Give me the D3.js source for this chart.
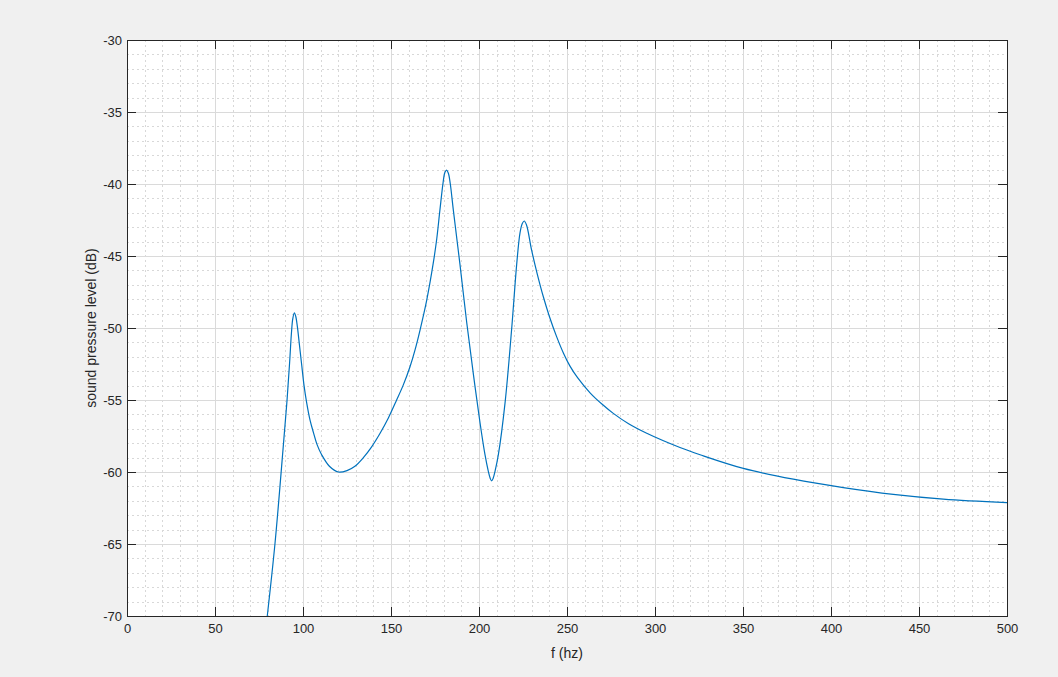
<!DOCTYPE html>
<html>
<head>
<meta charset="utf-8">
<script src="https://cdn.jsdelivr.net/npm/d3@7"></script>
<style>
  html, body { margin: 0; padding: 0; background: #f0f0f0; }
  svg { display: block; }
  text { font-family: Arial, "Liberation Sans", Helvetica, sans-serif; }
</style>
</head>
<body>
<svg id="chart" width="1058" height="677"></svg>
<script>
// ---- data ----
const freq = [79.7, 84.1, 88.8, 91.0, 92.4, 93.4, 94.2, 95.1, 95.9, 96.8, 98.0, 99.2, 100.6, 102.1, 104.0, 105.9, 108.0, 110.6, 115, 120.1, 125, 129.5, 134.3, 139, 143.8, 148.5, 153.2, 157, 160.8, 163.7, 166.5, 170.3, 174.0, 176.0, 177.8, 179.6, 180.6, 181.6, 182.6, 183.7, 185.4, 189.2, 193.0, 196.8, 200.6, 203.4, 205.3, 206.4, 207.2, 208.0, 209.1, 211, 214.8, 218.6, 221.4, 223.3, 224.6, 225.7, 227.0, 229.9, 233, 236.6, 240, 244.1, 248, 251.7, 256, 263.1, 270, 276.3, 285, 295.3, 314.2, 325.6, 350.2, 378.6, 407, 435.4, 463.8, 500];
const spl  = [-70, -64.95, -58.2, -54.9, -52.4, -50.4, -49.35, -48.94, -49.2, -49.9, -51.2, -52.5, -54.0, -55.2, -56.4, -57.25, -58.1, -58.8, -59.6, -60.0, -59.9, -59.6, -59.0, -58.25, -57.31, -56.25, -55.0, -53.95, -52.69, -51.5, -50.14, -48.06, -45.5, -43.8, -41.8, -39.9, -39.2, -39.03, -39.25, -40.0, -41.8, -45.6, -49.6, -53.2, -56.6, -58.8, -59.95, -60.45, -60.62, -60.45, -59.95, -58.8, -55.2, -50.0, -45.6, -43.4, -42.75, -42.57, -42.85, -44.6, -46.2, -47.85, -49.2, -50.6, -51.75, -52.65, -53.45, -54.5, -55.3, -55.93, -56.65, -57.31, -58.3, -58.8, -59.75, -60.5, -61.08, -61.55, -61.88, -62.13];
const xTicks = [0, 50, 100, 150, 200, 250, 300, 350, 400, 450, 500];
const yTicks = [-70, -65, -60, -55, -50, -45, -40, -35, -30];
const xMinor = d3.range(0, 501, 10);
const yMinor = d3.range(-70, -29, 1);
const xLabel = "f (hz)";
const yLabel = "sound pressure level (dB)";

// ---- layout ----
const W = 1058, H = 677;
const m = { left: 127, top: 40, right: 51, bottom: 61 };
const iw = W - m.left - m.right, ih = H - m.top - m.bottom;

const svg = d3.select("#chart");
const g = svg.append("g").attr("transform", `translate(${m.left},${m.top})`);

const x = d3.scaleLinear().domain([0, 500]).range([0, iw]);
const y = d3.scaleLinear().domain([-70, -30]).range([ih, 0]);

g.append("rect").attr("width", iw).attr("height", ih).attr("fill", "#ffffff");

// minor grid
const minorG = g.append("g").attr("stroke", "#d8d8d8").attr("stroke-width", 1).attr("stroke-dasharray", "2,3");
minorG.selectAll(".mx").data(xMinor.filter(v => v % 50 !== 0)).join("line")
  .attr("x1", d => Math.round(x(d)) + 0.5).attr("x2", d => Math.round(x(d)) + 0.5)
  .attr("y1", 0).attr("y2", ih);
minorG.selectAll(".my").data(yMinor.filter(v => v % 5 !== 0)).join("line")
  .attr("y1", d => Math.round(y(d)) + 0.5).attr("y2", d => Math.round(y(d)) + 0.5)
  .attr("x1", 0).attr("x2", iw);

// major grid
const majorG = g.append("g").attr("stroke", "#dadada").attr("stroke-width", 1);
majorG.selectAll(".gx").data(xTicks).join("line")
  .attr("x1", d => Math.round(x(d)) + 0.5).attr("x2", d => Math.round(x(d)) + 0.5)
  .attr("y1", 0).attr("y2", ih);
majorG.selectAll(".gy").data(yTicks).join("line")
  .attr("y1", d => Math.round(y(d)) + 0.5).attr("y2", d => Math.round(y(d)) + 0.5)
  .attr("x1", 0).attr("x2", iw);

// data line
g.append("clipPath").attr("id", "clip").append("rect").attr("width", iw).attr("height", ih);
const pts = freq.map((f, i) => [f, spl[i]]);
const line = d3.line().x(d => x(d[0])).y(d => y(d[1])).curve(d3.curveCatmullRom.alpha(0.5));
g.append("path").datum(pts)
  .attr("clip-path", "url(#clip)")
  .attr("fill", "none").attr("stroke", "#0072BD").attr("stroke-width", 1.2)
  .attr("stroke-linejoin", "round")
  .attr("d", line);

// axes
const tickLen = 9;
const axisColor = "#262626";
const styleAxis = sel => {
  sel.select(".domain").remove();
  sel.selectAll(".tick line").attr("stroke", axisColor);
  sel.selectAll(".tick text").attr("fill", axisColor).style("font-size", "13px");
};
g.append("g").attr("transform", `translate(0,${ih})`)
  .call(d3.axisBottom(x).tickValues(xTicks).tickSize(-tickLen).tickPadding(8).tickFormat(d3.format("d")))
  .call(styleAxis);
g.append("g").attr("transform", `translate(0,0)`)
  .call(d3.axisTop(x).tickValues(xTicks).tickSize(-tickLen).tickFormat(""))
  .call(styleAxis);
g.append("g")
  .call(d3.axisLeft(y).tickValues(yTicks).tickSize(-tickLen).tickPadding(5).tickFormat(d => d3.format("d")(d).replace("−", "-")))
  .call(styleAxis);
g.append("g").attr("transform", `translate(${iw},0)`)
  .call(d3.axisRight(y).tickValues(yTicks).tickSize(-tickLen).tickFormat(""))
  .call(styleAxis);

// box
g.append("rect").attr("x", 0.5).attr("y", 0.5).attr("width", iw).attr("height", ih)
  .attr("fill", "none").attr("stroke", axisColor).attr("stroke-width", 1);

// axis labels
g.append("text").attr("x", iw / 2).attr("y", ih + 42)
  .attr("text-anchor", "middle").attr("fill", axisColor).style("font-size", "14px").text(xLabel);
g.append("text").attr("transform", `translate(${-31},${ih / 2}) rotate(-90)`)
  .attr("text-anchor", "middle").attr("fill", axisColor).style("font-size", "14px").text(yLabel);
</script>
</body>
</html>
